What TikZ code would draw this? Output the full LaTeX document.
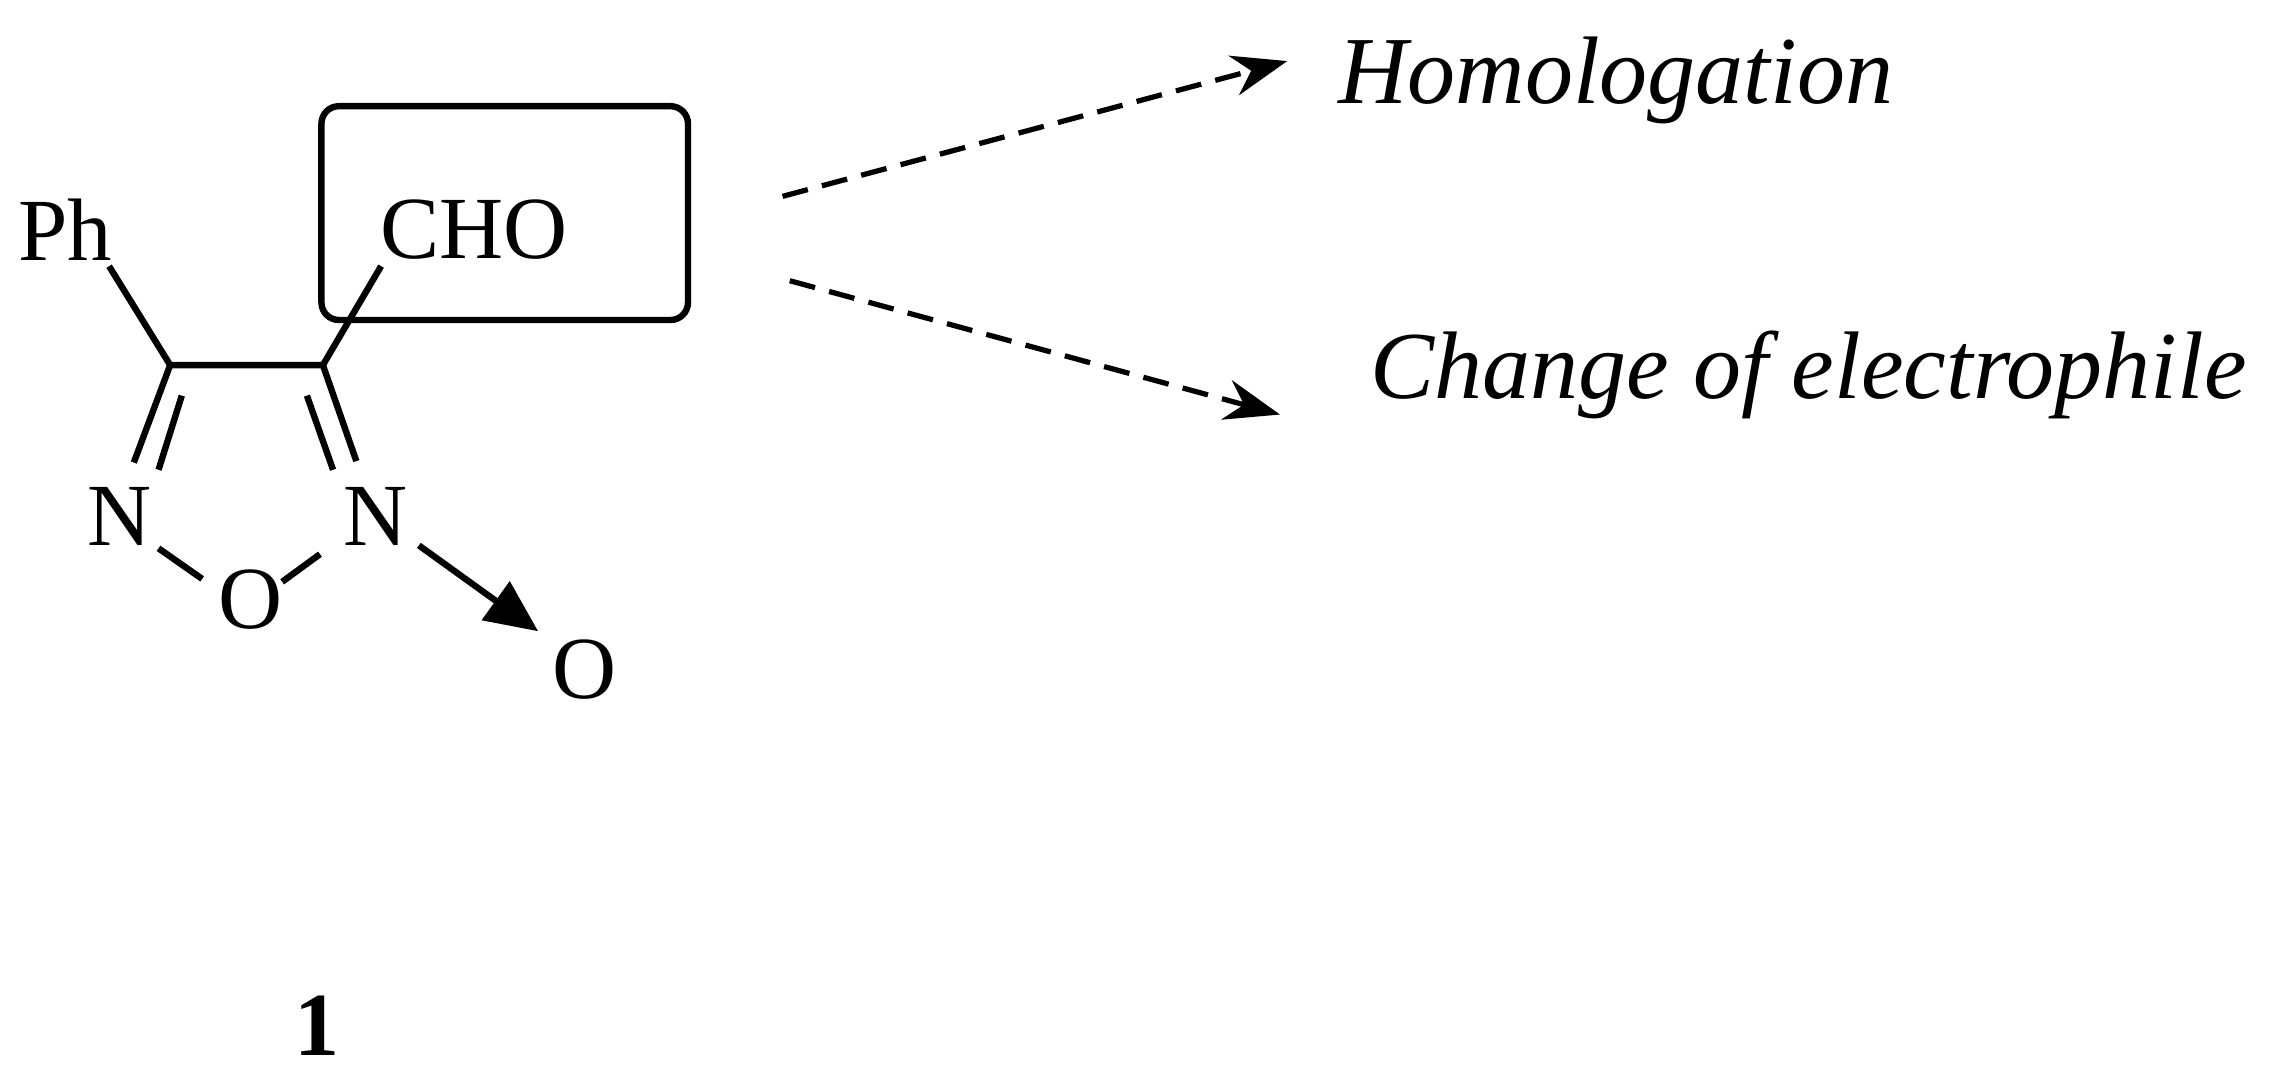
\documentclass[tikz,border=0pt]{standalone}
\usepackage{fontspec}
\setmainfont{Liberation Serif}
\usetikzlibrary{arrows.meta}
\begin{document}
\begin{tikzpicture}[x=1pt,y=-1pt,line width=4.4pt,
  atom/.style={font=\fontsize{61}{66}\selectfont,inner sep=0pt},
  lab/.style={font=\fontsize{66}{72}\selectfont\itshape,inner sep=0pt,anchor=west},
  dasharrow/.style={dashed,dash pattern=on 18pt off 10pt,line width=3.6pt,-{Stealth[length=38pt,width=28pt]}}]
\useasboundingbox (0,0) rectangle (1560,739);
\node[atom] (ph) at (45,158) {Ph};
\node[atom] (cho) at (326,158) {CHO};
\node[atom] (n1) at (82,355) {N};
\node[atom] (n2) at (258,355) {N};
\node[atom] (o) at (172,412) {O};
\node[atom] (ox) at (402,460) {O};
\coordinate (c1) at (117,251);
\coordinate (c2) at (222,251);
\draw[rounded corners=12pt] (221,73) rectangle (473,220);
\draw (75,183) -- (c1) -- (c2) -- (262,183);
\draw (c1) -- (92,318);
\draw (125,272) -- (109,323);
\draw (c2) -- (245,317);
\draw (211,272) -- (229,323);
\draw (109,377) -- (139,398);
\draw (194,400) -- (220,381);
\draw[-{Triangle[length=36pt,width=32pt]}] (288,375) -- (370,434);
\coordinate (a1) at (538,135);
\coordinate (a2) at (543,193);
\node[lab] (hom) at (918,55) {Homologation};
\node[lab] (chg) at (940,258) {Change of electrophile};
\draw[dasharrow] (a1) -- (885,42);
\draw[dasharrow] (a2) -- (880,285);
\node[atom,font=\fontsize{62}{66}\selectfont\bfseries] (one) at (218,705) {1};
\end{tikzpicture}
\end{document}
